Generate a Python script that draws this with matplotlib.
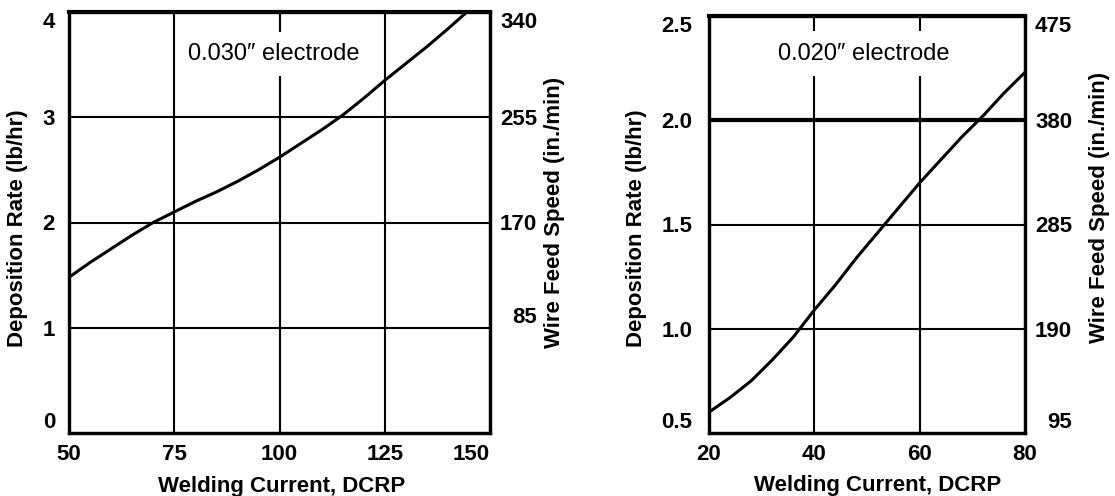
import matplotlib
matplotlib.use('Agg')
import matplotlib.pyplot as plt

plt.rcParams['font.family'] = ['Liberation Sans', 'DejaVu Sans']
plt.rcParams['font.weight'] = 'bold'

# ---- data: 0.030" electrode ----
left_current = [50, 55, 60, 65, 70, 75, 80, 85, 90, 95, 100, 105, 110, 115, 120, 125, 130, 135, 140, 144.5]
left_rate = [1.48, 1.62, 1.75, 1.88, 2.0, 2.1, 2.2, 2.29, 2.39, 2.50, 2.62, 2.75, 2.88, 3.02, 3.18, 3.35, 3.51, 3.67, 3.84, 4.0]
left_xticks = [50, 75, 100, 125, 150]
left_yticks = [0, 1, 2, 3, 4]
left_wfs_ticks = [85, 170, 255, 340]
left_title = "0.030\u2033 electrode"

# ---- data: 0.020" electrode ----
right_current = [20, 24, 28, 32, 36, 40, 44, 48, 52, 56, 60, 64, 68, 72, 76, 80]
right_rate = [0.60, 0.67, 0.75, 0.85, 0.96, 1.09, 1.21, 1.34, 1.46, 1.58, 1.70, 1.81, 1.92, 2.02, 2.13, 2.23]
right_xticks = [20, 40, 60, 80]
right_yticks = [0.5, 1.0, 1.5, 2.0, 2.5]
right_ytick_labels = ['0.5', '1.0', '1.5', '2.0', '2.5']
right_wfs_ticks = [95, 190, 285, 380, 475]
right_title = "0.020\u2033 electrode"

xlabel = "Welding Current, DCRP"
ylabel = "Deposition Rate (lb/hr)"
y2label = "Wire Feed Speed (in./min)"

W, H = 1115, 496
fig = plt.figure(figsize=(W / 100, H / 100), dpi=100)


def px_axes(x0, x1, y0, y1):
    return fig.add_axes([x0 / W, 1 - y1 / H, (x1 - x0) / W, (y1 - y0) / H])


def style(ax, ax2, xt, yt, ytl, y2t, lpad, lcoords, rcoords, xcoords):
    ax.set_xticks(xt)
    ax.set_yticks(yt)
    ax.set_yticklabels(ytl)
    ax2.set_yticks(y2t)
    ax2.set_yticklabels([str(v) for v in y2t])
    ax.grid(True, color='black', linewidth=1.5)
    ax.set_axisbelow(True)
    ax.tick_params(axis='both', length=0, labelsize=16)
    ax.tick_params(axis='x', pad=8)
    ax.tick_params(axis='y', pad=lpad)
    ax2.tick_params(axis='y', length=0, labelsize=16, pad=34)
    for lbl in ax2.get_yticklabels():
        lbl.set_horizontalalignment('right')
    for a in (ax, ax2):
        labels = a.get_yticklabels()
        labels[-1].set_verticalalignment('top')
        labels[0].set_verticalalignment('bottom')
        for s in a.spines.values():
            s.set_linewidth(2.3)
            s.set_color('black')
    ax.spines['top'].set_linewidth(3)
    ax.set_xlabel(xlabel, fontsize=16, fontweight='bold', va='center')
    ax.set_ylabel(ylabel, fontsize=16, fontweight='bold', va='center')
    ax2.set_ylabel(y2label, fontsize=16, fontweight='bold', va='center', rotation=90)
    ax.yaxis.set_label_coords(*lcoords)
    ax2.yaxis.set_label_coords(*rcoords)
    ax.xaxis.set_label_coords(*xcoords)


# Left panel
axL = px_axes(69, 490, 12, 433)
axL.plot(left_current, left_rate, color='black', linewidth=2.2, zorder=2)
axL.set_xlim(50, 150)
axL.set_ylim(0, 4)
axL2 = axL.twinx()
axL2.set_ylim(0, 340)
style(axL, axL2, left_xticks, left_yticks, [str(v) for v in left_yticks], left_wfs_ticks,
      10, (-0.1235, 0.487), (1.154, 0.525), (0.506, -0.126))
axL.get_xticklabels()[-1].set_horizontalalignment('right')
axL.text(98.7, 3.6, left_title, fontsize=17, fontweight='normal', ha='center', va='center',
         bbox=dict(facecolor='white', edgecolor='none', pad=8), zorder=3)

# Right panel
axR = px_axes(709, 1025, 16, 433)
axR.plot(right_current, right_rate, color='black', linewidth=2.2, zorder=2)
axR.set_xlim(20, 80)
axR.set_ylim(0.5, 2.5)
axR2 = axR.twinx()
axR2.set_ylim(95, 475)
style(axR, axR2, right_xticks, right_yticks, right_ytick_labels, right_wfs_ticks,
      12, (-0.231, 0.492), (1.237, 0.541), (0.535, -0.125))
for val, gl in zip(right_yticks, axR.get_ygridlines()):
    if val == 2.0:
        gl.set_linewidth(3)
axR.text(49.3, 2.32, right_title, fontsize=17, fontweight='normal', ha='center', va='center',
         bbox=dict(facecolor='white', edgecolor='none', pad=8), zorder=3)

fig.savefig('out.png', dpi=100)
